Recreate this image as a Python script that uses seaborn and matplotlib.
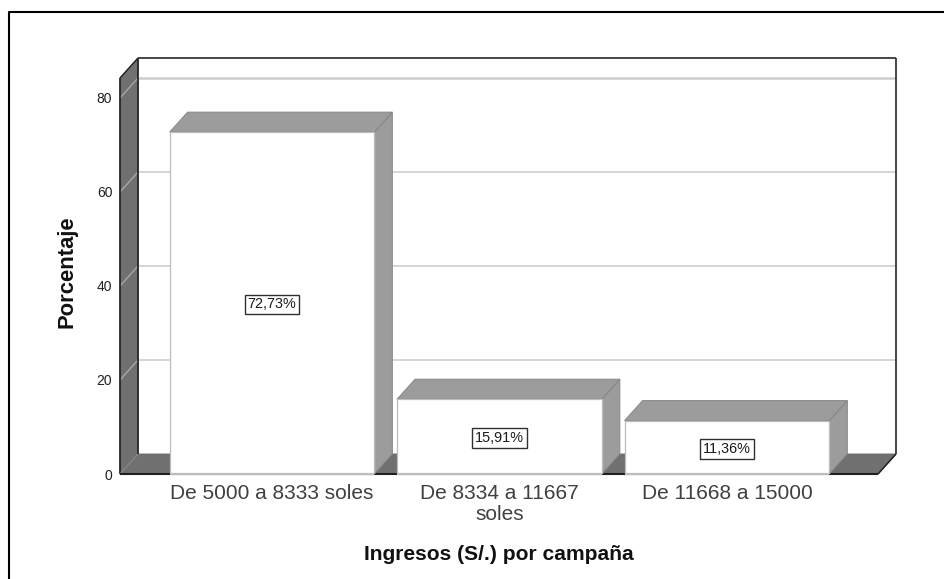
import matplotlib
matplotlib.use("Agg")
import matplotlib.pyplot as plt
from matplotlib.patches import Polygon
from matplotlib.lines import Line2D
import pandas as pd
import seaborn as sns

categories = ["De 5000 a 8333 soles", "De 8334 a 11667\nsoles", "De 11668 a 15000"]
percentages = [72.73, 15.91, 11.36]
value_labels = ["72,73%", "15,91%", "11,36%"]
y_ticks = [0, 20, 40, 60, 80]

W, H = 944, 579
sns.set_theme(style="white")
plt.rcParams["font.family"] = ["Liberation Sans", "DejaVu Sans"]

fig = plt.figure(figsize=(W / 100, H / 100), dpi=100, facecolor="white")
ax = fig.add_axes([120 / W, (H - 474) / H, 758 / W, 396 / H])

df = pd.DataFrame({"rango": categories, "pct": percentages})
sns.barplot(data=df, x="rango", y="pct", color="white", saturation=1, width=0.9,
            edgecolor="#bcbcbc", linewidth=0.9, ax=ax, zorder=5)
ax.set_xlim(-0.668, 2.664)
ax.set_ylim(0, 84.25)
for s in ax.spines.values():
    s.set_visible(False)

# Oblique depth of the pseudo-3D box, expressed in data units
x_per_px = (ax.get_xlim()[1] - ax.get_xlim()[0]) / 758
y_per_px = (ax.get_ylim()[1] - ax.get_ylim()[0]) / 396
dx, dy = 18 * x_per_px, 20 * y_per_px
x0, x1 = ax.get_xlim()
y0, y1 = ax.get_ylim()

WALL = "#707070"
SIDE = "#9c9c9c"
GRID = "#cdcdcd"


def poly(points, face, edge=None, z=1, lw=0.7):
    ax.add_patch(Polygon(points, closed=True, facecolor=face, edgecolor=edge or face,
                         linewidth=lw, zorder=z, clip_on=False))


def line(xs, ys, color="black", lw=1.4, z=2):
    ax.add_line(Line2D(xs, ys, color=color, linewidth=lw, zorder=z, clip_on=False,
                       solid_capstyle="butt"))


# Floor and left wall
poly([(x0, y0), (x1, y0), (x1 + dx, dy), (x0 + dx, dy)], WALL)
poly([(x0, y0), (x0 + dx, dy), (x0 + dx, y1 + dy), (x0, y1)], WALL)

# Gridlines on the back wall, continued across the left wall
for t in y_ticks[1:]:
    w = 1.8 if t == 80 else 1.2
    line([x0 + dx, x1 + dx], [t + dy, t + dy], GRID, w, 1.5)
    line([x0, x0 + dx], [t, t + dy], "#a8a8a8", 1.0, 1.5)

# Box outline
line([x0, x0], [y0, y1], "#202020", 1.2)
line([x0 + dx, x0 + dx], [dy, y1 + dy], "#202020", 1.2)
line([x0, x0 + dx], [y1, y1 + dy], "#202020", 1.0)
line([x0 + dx, x1 + dx], [y1 + dy, y1 + dy], "#383838", 1.3)
line([x1 + dx, x1 + dx], [dy, y1 + dy], "#282828", 1.2)
line([x0, x0 + dx], [y0, dy], "#8a8a8a", 0.8)
line([x1, x1 + dx], [y0, dy], "#202020", 1.1)
line([x0, x1], [y0, y0], "#202020", 1.5)

# Side and top faces of each bar, built from the bar patches
for bar, label in zip(ax.patches[:3], value_labels):
    left, right = bar.get_x(), bar.get_x() + bar.get_width()
    top = bar.get_height()
    poly([(right, 0), (right + dx, dy), (right + dx, top + dy), (right, top)], SIDE, "#868686", 3)
    poly([(left, top), (left + dx, top + dy), (right + dx, top + dy), (right, top)], SIDE, "#868686", 3)
    ax.text((left + right) / 2, top / 2 - 0.3, label, ha="center", va="center", fontsize=10.4,
            color="#1a1a1a", zorder=7,
            bbox=dict(boxstyle="square,pad=0.2", facecolor="white", edgecolor="#303030", linewidth=1.0))
for bar in ax.patches[:3]:
    line([bar.get_x(), bar.get_x() + bar.get_width()], [0, 0], "#bdbdbd", 1.6, 6)

ax.set_yticks(y_ticks)
ax.tick_params(axis="y", length=0, pad=5.5, labelsize=10, labelcolor="#222222")
ax.tick_params(axis="x", length=0, pad=7.5, labelsize=15, labelcolor="#404040")
for lab in ax.get_xticklabels():
    lab.set_linespacing(1.1)
    lab.set_va("top")

ax.set_xlabel("Ingresos (S/.) por campaña", fontsize=15.1, fontweight="bold", color="#111111")
ax.set_ylabel("Porcentaje", fontsize=15.8, fontweight="bold", color="#111111")
ax.xaxis.set_label_coords((499 - 120) / 758, -(554 - 474) / 396, transform=ax.transAxes)
ax.xaxis.label.set_va("center")
ax.yaxis.set_label_coords(-(120 - 67) / 758, (474 - 272) / 396, transform=ax.transAxes)
ax.yaxis.label.set_va("center")

# Frame around the chart: open at the bottom and on the right
fig.add_artist(Line2D([9 / W, 9 / W, 1], [0, (H - 12) / H, (H - 12) / H],
                      color="black", linewidth=1.5, transform=fig.transFigure))

fig.savefig("out.png", dpi=100, facecolor="white")
